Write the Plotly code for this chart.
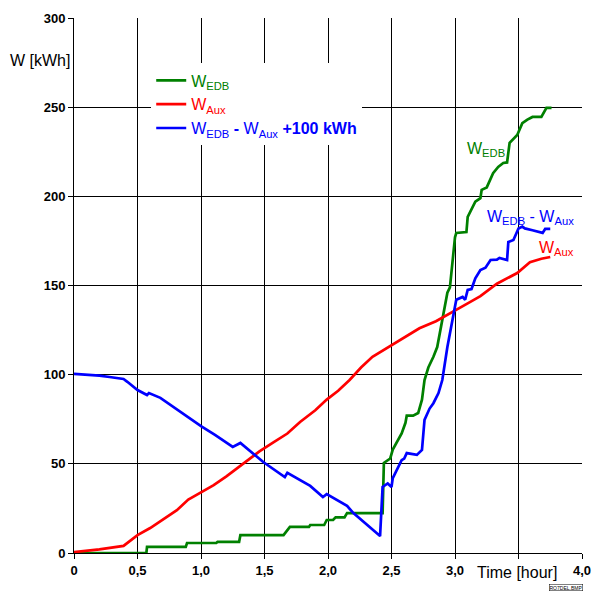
import plotly.graph_objects as go

# ---- data ----
t_edb = [0, 0.57, 0.575, 0.88, 0.89, 1.12, 1.13, 1.30, 1.31, 1.65, 1.70, 1.85, 1.86, 1.97, 1.99,
         2.04, 2.06, 2.13, 2.15, 2.43, 2.44, 2.47, 2.49, 2.51, 2.54, 2.58, 2.61, 2.62, 2.67, 2.71,
         2.74, 2.76, 2.79, 2.83, 2.86, 2.94, 2.96, 3.00, 3.01, 3.09, 3.10, 3.16, 3.20, 3.21, 3.25,
         3.30, 3.34, 3.38, 3.41, 3.43, 3.49, 3.53, 3.57, 3.61, 3.68, 3.72, 3.76]
w_edb = [0, 0, 3.4, 3.4, 5.6, 5.6, 6.2, 6.2, 10, 10, 14.6, 14.6, 15.7, 15.7, 18.5,
         18.5, 20, 20, 22.4, 22.4, 50.5, 52, 53, 58, 62, 67, 73, 77, 77, 78.5,
         86, 97, 104, 110, 115.5, 146, 149, 177, 179.5, 180, 188.5, 197, 199, 203.6, 205,
         213, 216.5, 218.7, 219, 230, 234.4, 241, 243, 244.5, 244.5, 249.6, 249.6]

t_aux = [0, 0.2, 0.39, 0.45, 0.5, 0.6, 0.7, 0.81, 0.9, 1.0, 1.1, 1.2, 1.31, 1.46, 1.57, 1.68,
         1.78, 1.9, 1.99, 2.08, 2.17, 2.26, 2.35, 2.42, 2.49, 2.6, 2.72, 2.85, 2.98, 3.1, 3.2,
         3.33, 3.49, 3.59, 3.68, 3.75]
w_aux = [0.5, 2, 4, 7, 10, 14, 19, 24, 30, 34, 38, 43, 49, 57, 62, 67,
         73.5, 80, 86, 91, 97, 104, 110, 113, 116, 121, 126, 130, 135, 140, 144,
         151, 157, 163, 165, 166]

t_diff = [0, 0.2, 0.28, 0.39, 0.42, 0.5, 0.575, 0.59, 0.68, 0.78, 0.89, 1.0, 1.11, 1.25, 1.31,
          1.49, 1.66, 1.68, 1.86, 1.96, 1.99, 2.04, 2.15, 2.2, 2.41, 2.43, 2.47, 2.5, 2.51, 2.58,
          2.6, 2.62, 2.66, 2.7, 2.74, 2.76, 2.8, 2.83, 2.87, 2.9, 2.94, 3.01, 3.06, 3.08, 3.1,
          3.13, 3.16, 3.2, 3.24, 3.28, 3.33, 3.35, 3.41, 3.42, 3.46, 3.5, 3.53, 3.55, 3.61, 3.69,
          3.71, 3.75]
w_diff = [100.4, 99.5, 98.7, 97.6, 96, 91.4, 88.6, 89.7, 87, 82, 76.3, 71.2, 66.2, 59.5, 61.7,
          51, 42.6, 45, 37.6, 31.4, 33, 31, 26.4, 22.4, 9.5, 37, 39, 37, 42, 52,
          53, 56, 55.5, 55, 57.8, 74.6, 81, 84, 89.7, 97, 115.5, 142, 143.6, 142, 147.5,
          148, 154, 158.7, 160, 164.3, 164.5, 165.5, 164.3, 174.4, 175.5, 182, 183, 182, 181, 179.5,
          181.7, 181.7]

x_ticks = [0, 0.5, 1.0, 1.5, 2.0, 2.5, 3.0, 3.5, 4.0]
x_tick_text = ["0", "0,5", "1,0", "1,5", "2,0", "2,5", "3,0", " ", "4,0"]
y_ticks = [0, 50, 100, 150, 200, 250, 300]
y_tick_text = ["0", "50", "100", "150", "200", "250", "300"]

GREEN = "#008000"
RED = "#ff0000"
BLUE = "#0000ff"
FONT = "Liberation Sans, Arial, sans-serif"

fig = go.Figure()
fig.add_trace(go.Scatter(
    x=t_edb, y=w_edb, mode="lines", line=dict(color=GREEN, width=2.7),
    name=f'<span style="color:{GREEN}">W<sub>EDB</sub></span>'))
fig.add_trace(go.Scatter(
    x=t_aux, y=w_aux, mode="lines", line=dict(color=RED, width=2.7),
    name=f'<span style="color:{RED}">W<sub>Aux</sub></span>'))
fig.add_trace(go.Scatter(
    x=t_diff, y=w_diff, mode="lines", line=dict(color=BLUE, width=2.7),
    name=f'<span style="color:{BLUE}">W<sub>EDB</sub> <b>-</b> W<sub>Aux</sub> <b>+100 kWh</b></span>'))

fig.update_layout(
    width=594, height=595,
    margin=dict(l=74, r=12, t=18, b=42, autoexpand=False),
    paper_bgcolor="white", plot_bgcolor="white",
    font=dict(family=FONT, size=16, color="black"),
    showlegend=True,
    legend=dict(x=0.152, y=0.915, xanchor="left", yanchor="top",
                bgcolor="white", borderwidth=0,
                font=dict(family=FONT, size=16), tracegroupgap=0),
    xaxis=dict(range=[0, 4], tickvals=x_ticks,
               ticktext=[f"<b>{s}</b>" for s in x_tick_text],
               showgrid=True, gridcolor="black", gridwidth=1,
               showline=True, linecolor="black", linewidth=1,
               ticks="outside", ticklen=5, tickcolor="black",
               tickfont=dict(family=FONT, size=13, color="black"),
               zeroline=False, fixedrange=True, automargin=False),
    yaxis=dict(range=[0, 300], tickvals=y_ticks,
               ticktext=[f"<b>{s}</b>" for s in y_tick_text],
               showgrid=True, gridcolor="black", gridwidth=1,
               showline=True, linecolor="black", linewidth=1,
               ticks="outside", ticklen=5, tickcolor="black",
               tickfont=dict(family=FONT, size=13, color="black"),
               zeroline=False, fixedrange=True, automargin=False),
    annotations=[
        dict(text="W [kWh]", xref="paper", yref="paper", x=-0.13, y=0.921,
             xanchor="left", yanchor="middle", showarrow=False,
             font=dict(family=FONT, size=16, color="black")),
        dict(text="Time [hour]", xref="paper", yref="paper", x=0.872, y=-0.037,
             xanchor="center", yanchor="middle", showarrow=False,
             font=dict(family=FONT, size=16, color="black")),
        dict(text="W<sub>EDB</sub>", x=3.08, y=226, xanchor="left", yanchor="middle",
             showarrow=False, font=dict(family=FONT, size=16, color=GREEN)),
        dict(text="W<sub>EDB</sub> - W<sub>Aux</sub>", x=3.24, y=188, xanchor="left",
             yanchor="middle", showarrow=False, font=dict(family=FONT, size=16, color=BLUE)),
        dict(text="W<sub>Aux</sub>", x=3.645, y=170.5, xanchor="left", yanchor="middle",
             showarrow=False, font=dict(family=FONT, size=16, color=RED)),
        dict(text="RO7DEL.BMP", xref="paper", yref="paper", x=0.968, y=-0.065,
             xanchor="center", yanchor="middle", showarrow=False,
             font=dict(family=FONT, size=5, color="black"),
             bordercolor="black", borderwidth=0.5, borderpad=0),
    ],
)

fig.write_html("out.html", config={"displayModeBar": False},
               post_script="document.body.style.margin='0';document.body.style.overflow='hidden';")
